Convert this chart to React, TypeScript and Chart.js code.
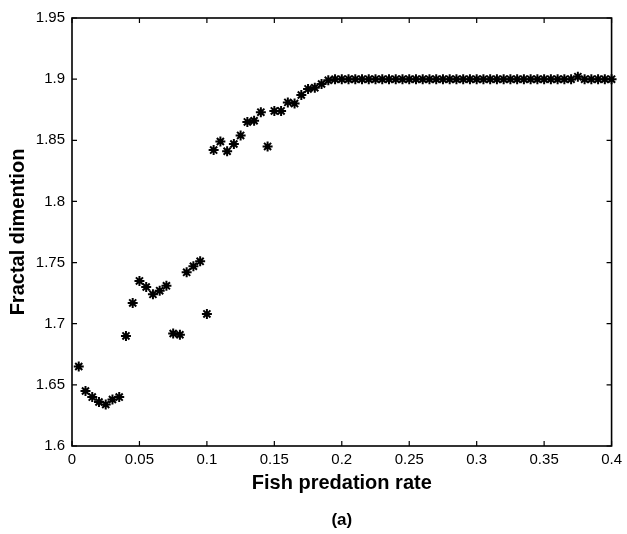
import React, { useEffect, useRef } from "react";
import { Chart, registerables } from "chart.js";

Chart.register(...registerables);

const xValues = [
  0.005, 0.01, 0.015, 0.02, 0.025, 0.03, 0.035, 0.04, 0.045, 0.05,
  0.055, 0.06, 0.065, 0.07, 0.075, 0.08, 0.085, 0.09, 0.095, 0.1,
  0.105, 0.11, 0.115, 0.12, 0.125, 0.13, 0.135, 0.14, 0.145, 0.15,
  0.155, 0.16, 0.165, 0.17, 0.175, 0.18, 0.185, 0.19, 0.195, 0.2,
  0.205, 0.21, 0.215, 0.22, 0.225, 0.23, 0.235, 0.24, 0.245, 0.25,
  0.255, 0.26, 0.265, 0.27, 0.275, 0.28, 0.285, 0.29, 0.295, 0.3,
  0.305, 0.31, 0.315, 0.32, 0.325, 0.33, 0.335, 0.34, 0.345, 0.35,
  0.355, 0.36, 0.365, 0.37, 0.375, 0.38, 0.385, 0.39, 0.395, 0.4,
];

const fractalDimension = [
  1.665, 1.645, 1.64, 1.636, 1.634, 1.638, 1.64, 1.69, 1.717, 1.735,
  1.73, 1.724, 1.727, 1.731, 1.692, 1.691, 1.742, 1.747, 1.751, 1.708,
  1.842, 1.849, 1.841, 1.847, 1.854, 1.865, 1.866, 1.873, 1.845, 1.874,
  1.874, 1.881, 1.88, 1.887, 1.892, 1.893, 1.896, 1.899, 1.9, 1.9,
  1.9, 1.9, 1.9, 1.9, 1.9, 1.9, 1.9, 1.9, 1.9, 1.9,
  1.9, 1.9, 1.9, 1.9, 1.9, 1.9, 1.9, 1.9, 1.9, 1.9,
  1.9, 1.9, 1.9, 1.9, 1.9, 1.9, 1.9, 1.9, 1.9, 1.9,
  1.9, 1.9, 1.9, 1.9, 1.902, 1.9, 1.9, 1.9, 1.9, 1.9,
];

const xTickLabels = ["0", "0.05", "0.1", "0.15", "0.2", "0.25", "0.3", "0.35", "0.4"];
const yTickLabels = ["1.6", "1.65", "1.7", "1.75", "1.8", "1.85", "1.9", "1.95"];

const FONT = "'Liberation Sans', Arial, Helvetica, sans-serif";

const framePlugin = {
  id: "matlabFrame",
  beforeDatasetsDraw(chart: any) {
    const { ctx, chartArea } = chart;
    const { left, right, top, bottom } = chartArea;
    const xs = chart.scales.x;
    const ys = chart.scales.y;
    ctx.save();
    ctx.strokeStyle = "#000";
    ctx.lineWidth = 1.6;
    ctx.strokeRect(left, top, right - left, bottom - top);
    ctx.lineWidth = 1.2;
    const len = 5;
    ctx.beginPath();
    xs.ticks.forEach((t: any) => {
      const px = xs.getPixelForValue(t.value);
      ctx.moveTo(px, bottom);
      ctx.lineTo(px, bottom - len);
      ctx.moveTo(px, top);
      ctx.lineTo(px, top + len);
    });
    ys.ticks.forEach((t: any) => {
      const py = ys.getPixelForValue(t.value);
      ctx.moveTo(left, py);
      ctx.lineTo(left + len, py);
      ctx.moveTo(right, py);
      ctx.lineTo(right - len, py);
    });
    ctx.stroke();
    ctx.restore();
  },
};

export default function App() {
  const canvasRef = useRef<HTMLCanvasElement | null>(null);

  useEffect(() => {
    document.body.style.margin = "0";
    const canvas = canvasRef.current;
    if (!canvas) return;
    Chart.defaults.color = "#000";
    Chart.defaults.font.family = FONT;

    const points = xValues.map((x, i) => ({ x, y: fractalDimension[i] }));

    const chart = new Chart(canvas, {
      type: "scatter",
      data: {
        datasets: [
          {
            data: points,
            pointStyle: "star",
            pointRadius: 5,
            pointHoverRadius: 5,
            borderColor: "#000",
            backgroundColor: "#000",
            borderWidth: 2,
            clip: false,
          } as any,
        ],
      },
      options: {
        animation: false,
        responsive: true,
        maintainAspectRatio: false,
        layout: { padding: { top: 18, right: 12, left: 0, bottom: 0 } },
        plugins: {
          legend: { display: false },
          tooltip: { enabled: false },
          title: {
            display: true,
            text: "(a)",
            position: "bottom",
            fullSize: false,
            color: "#000",
            font: { family: FONT, size: 17, weight: "bold" },
            padding: { top: 4, bottom: 3 },
          },
        },
        scales: {
          x: {
            type: "linear",
            min: 0,
            max: 0.4,
            grid: { display: false, drawTicks: false },
            border: { display: false },
            ticks: {
              stepSize: 0.05,
              autoSkip: false,
              maxRotation: 0,
              padding: 5,
              color: "#000",
              font: { family: FONT, size: 15 },
              callback: (_v: any, i: number) => xTickLabels[i],
            },
            title: {
              display: true,
              text: "Fish predation rate",
              color: "#000",
              font: { family: FONT, size: 20, weight: "bold" },
              padding: { top: 0, bottom: 11 },
            },
            afterFit: (s: any) => {
              s.height = 60.6;
            },
          },
          y: {
            type: "linear",
            min: 1.6,
            max: 1.95,
            grid: { display: false, drawTicks: false },
            border: { display: false },
            ticks: {
              stepSize: 0.05,
              autoSkip: false,
              padding: 7,
              color: "#000",
              font: { family: FONT, size: 15 },
              callback: (_v: any, i: number) => yTickLabels[i],
            },
            title: {
              display: true,
              text: "Fractal dimention",
              color: "#000",
              font: { family: FONT, size: 20, weight: "bold" },
              padding: { top: 6, bottom: 0 },
            },
            afterFit: (s: any) => {
              s.width = 72;
            },
          },
        },
      },
      plugins: [framePlugin],
    });

    return () => chart.destroy();
  }, []);

  return (
    <div style={{ width: 627, height: 534, position: "relative" }}>
      <canvas ref={canvasRef} />
    </div>
  );
}
